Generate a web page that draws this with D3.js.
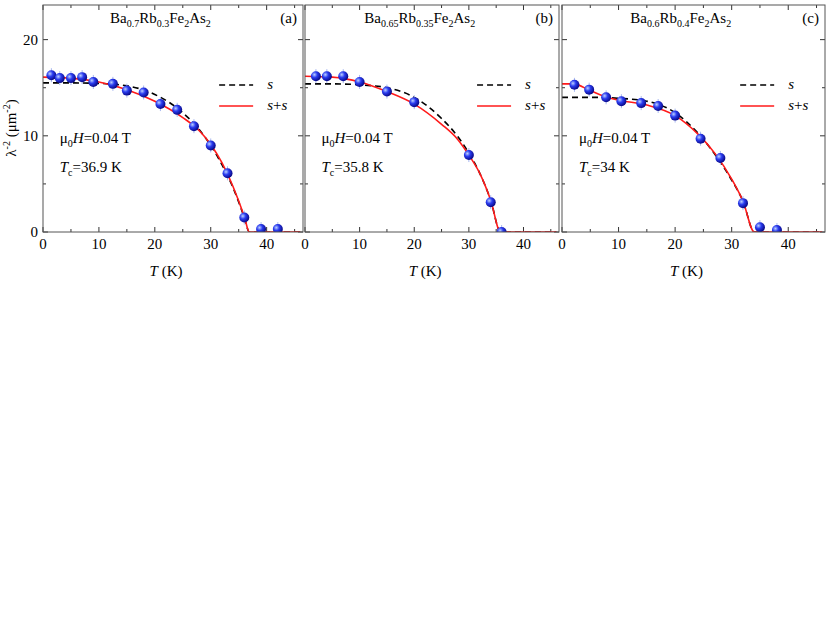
<!DOCTYPE html>
<html lang="en">
<head>
<meta charset="UTF-8">
<script src="https://d3js.org/d3.v7.min.js"></script>
<style>
  body { margin: 0; background: #fff; }
  text { font-family: "Liberation Serif", serif; }
</style>
</head>
<body>
<svg id="chart" width="830" height="637"></svg>
<script>
// Data: [T (K), lambda^-2 (um^-2)]
const pointsA = [[1.5,16.3],[3,16],[5,16],[7,16.1],[9,15.6],[12.5,15.4],[15,14.7],[18,14.5],[21,13.3],[24,12.7],[27,11.0],[30,9.0],[33,6.1],[36,1.5],[39,0.3],[42,0.3]];
const sA = [[0,15.5],[5,15.5],[10,15.45],[15,15.2],[20,14.3],[25,12.4],[28,10.6],[30,9.0],[32,7.0],[34,4.6],[36,1.5],[36.9,0],[46,0]];
const ssA = [[0,16.1],[5,16.0],[10,15.6],[15,14.8],[20,13.6],[25,11.9],[28,10.5],[30,9.1],[32,7.2],[34,4.7],[36,1.6],[36.9,0],[46,0]];

const pointsB = [[2,16.2],[4,16.2],[7,16.2],[10,15.6],[15,14.6],[20,13.5],[30,8.0],[34,3.1],[36,0]];
const sB = [[0,15.4],[5,15.4],[10,15.3],[15,15.0],[20,14.0],[25,11.8],[28,9.9],[30,8.2],[32,6.1],[34,3.3],[35.8,0],[46,0]];
const ssB = [[0,16.2],[5,16.1],[10,15.6],[15,14.6],[20,13.3],[25,11.2],[28,9.6],[30,8.0],[32,6.1],[34,3.3],[35.8,0],[46,0]];

const pointsC = [[2.2,15.3],[4.8,14.8],[7.8,14.0],[10.5,13.6],[14,13.4],[17,13.1],[20,12.1],[24.5,9.7],[28,7.7],[32,3.0],[35,0.5],[38,0.2]];
const sC = [[0,14.0],[5,14.0],[10,13.9],[15,13.6],[20,12.4],[24,10.3],[27,8.1],[30,5.4],[32,3.2],[34,0],[46,0]];
const ssC = [[0,15.4],[2,15.4],[5,14.7],[8,14.0],[10,13.7],[15,13.2],[20,12.1],[24,10.2],[27,8.2],[30,5.5],[32,3.2],[34,0],[46,0]];

const xTicks = [0, 10, 20, 30, 40];
const yTicks = [0, 10, 20];

const panels = [
  {left: 43, right: 303, pts: pointsA, s: sA, ss: ssA, label: "(a)", a: "0.7", b: "0.3", tc: "36.9", yLabels: true},
  {left: 305, right: 559, pts: pointsB, s: sB, ss: ssB, label: "(b)", a: "0.65", b: "0.35", tc: "35.8", yLabels: false},
  {left: 562, right: 825, pts: pointsC, s: sC, ss: ssC, label: "(c)", a: "0.6", b: "0.4", tc: "34", yLabels: false}
];

const plotTop = 5, plotBottom = 232;
const svg = d3.select("#chart");

const defs = svg.append("defs");
const grad = defs.append("radialGradient").attr("id", "ball").attr("cx", "35%").attr("cy", "35%").attr("r", "65%");
grad.append("stop").attr("offset", "0%").attr("stop-color", "#bcd0ff");
grad.append("stop").attr("offset", "45%").attr("stop-color", "#2a3cf0");
grad.append("stop").attr("offset", "100%").attr("stop-color", "#0a0a8a");

const y = d3.scaleLinear().domain([0, 23.6]).range([plotBottom, plotTop]);

panels.forEach(p => {
  const x = d3.scaleLinear().domain([0, 46.5]).range([p.left, p.right]);
  const g = svg.append("g");
  const clipId = "clip" + p.label[1];
  defs.append("clipPath").attr("id", clipId).append("rect")
    .attr("x", p.left).attr("y", plotTop).attr("width", p.right - p.left).attr("height", plotBottom - plotTop);

  // ticks (inward) on all four sides
  d3.range(0, 46, 5).forEach(t => {
    const len = t % 10 === 0 ? 5 : 3;
    g.append("line").attr("x1", x(t)).attr("x2", x(t)).attr("y1", plotBottom).attr("y2", plotBottom - len).attr("stroke", "#333");
    g.append("line").attr("x1", x(t)).attr("x2", x(t)).attr("y1", plotTop).attr("y2", plotTop + len).attr("stroke", "#333");
  });
  d3.range(0, 23, 5).forEach(v => {
    const len = v % 10 === 0 ? 5 : 3;
    g.append("line").attr("x1", p.left).attr("x2", p.left + len).attr("y1", y(v)).attr("y2", y(v)).attr("stroke", "#333");
    g.append("line").attr("x1", p.right).attr("x2", p.right - len).attr("y1", y(v)).attr("y2", y(v)).attr("stroke", "#333");
  });

  g.selectAll(".xl").data(xTicks).enter().append("text")
    .attr("x", d => x(d)).attr("y", plotBottom + 17).attr("text-anchor", "middle")
    .attr("font-size", 15).text(d => d);
  if (p.yLabels) {
    g.selectAll(".yl").data(yTicks).enter().append("text")
      .attr("x", p.left - 5).attr("y", d => y(d) + 5).attr("text-anchor", "end")
      .attr("font-size", 15).text(d => d);
  }

  const xt = g.append("text").attr("x", x(22)).attr("y", 276).attr("text-anchor", "middle").attr("font-size", 15);
  xt.append("tspan").attr("font-style", "italic").text("T");
  xt.append("tspan").text(" (K)");

  const line = d3.line().x(d => x(d[0])).y(d => y(d[1])).curve(d3.curveMonotoneX);
  const plot = g.append("g").attr("clip-path", `url(#${clipId})`);
  plot.append("path").datum(p.s).attr("d", line).attr("fill", "none")
    .attr("stroke", "#000").attr("stroke-width", 1.6).attr("stroke-dasharray", "6,4");
  plot.append("path").datum(p.ss).attr("d", line).attr("fill", "none")
    .attr("stroke", "#ff1a1a").attr("stroke-width", 1.6);

  // error bars
  plot.selectAll(".err").data(p.pts).enter().append("line")
    .attr("x1", d => x(d[0])).attr("x2", d => x(d[0]))
    .attr("y1", d => y(d[1]) - 7).attr("y2", d => y(d[1]) + 7)
    .attr("stroke", "#a8b8f0").attr("stroke-width", 1);
  plot.selectAll(".pt").data(p.pts).enter().append("circle")
    .attr("cx", d => x(d[0])).attr("cy", d => y(d[1])).attr("r", 5)
    .attr("fill", "url(#ball)");

  // frame
  g.append("rect").attr("x", p.left).attr("y", plotTop).attr("width", p.right - p.left).attr("height", plotBottom - plotTop)
    .attr("fill", "none").attr("stroke", "#555").attr("stroke-width", 1);

  // title
  const t = g.append("text").attr("x", x(21)).attr("y", plotTop + 18).attr("text-anchor", "middle").attr("font-size", 15);
  const sub = (s) => t.append("tspan").attr("font-size", 10).attr("dy", 4).text(s);
  const up = (s) => t.append("tspan").attr("dy", -4).text(s);
  t.append("tspan").text("Ba");
  sub(p.a); up("Rb"); sub(p.b); up("Fe"); sub("2"); up("As"); sub("2");

  g.append("text").attr("x", p.right - 6).attr("y", plotTop + 18).attr("text-anchor", "end").attr("font-size", 15).text(p.label);

  // legend
  const lx = x(31.5);
  g.append("line").attr("x1", lx).attr("x2", lx + 34).attr("y1", 85).attr("y2", 85)
    .attr("stroke", "#000").attr("stroke-width", 1.6).attr("stroke-dasharray", "6,4");
  g.append("text").attr("x", lx + 48).attr("y", 89).attr("font-size", 15).attr("font-style", "italic").text("s");
  g.append("line").attr("x1", lx).attr("x2", lx + 34).attr("y1", 106).attr("y2", 106)
    .attr("stroke", "#ff1a1a").attr("stroke-width", 1.6);
  const ll = g.append("text").attr("x", lx + 48).attr("y", 110).attr("font-size", 15);
  ll.append("tspan").attr("font-style", "italic").text("s");
  ll.append("tspan").text("+");
  ll.append("tspan").attr("font-style", "italic").text("s");

  // field and Tc annotation
  const h = g.append("text").attr("x", x(3)).attr("y", 143).attr("font-size", 15);
  h.append("tspan").text("μ");
  h.append("tspan").attr("font-size", 10).attr("dy", 4).text("0");
  h.append("tspan").attr("dy", -4).attr("font-style", "italic").text("H");
  h.append("tspan").text("=0.04 T");
  const tc = g.append("text").attr("x", x(3)).attr("y", 172).attr("font-size", 15);
  tc.append("tspan").attr("font-style", "italic").text("T");
  tc.append("tspan").attr("font-size", 10).attr("dy", 4).text("c");
  tc.append("tspan").attr("dy", -4).text("=" + p.tc + " K");
});

// y axis label
const yl = svg.append("text").attr("transform", "translate(16,128) rotate(-90)")
  .attr("text-anchor", "middle").attr("font-size", 15);
yl.append("tspan").text("λ");
yl.append("tspan").attr("font-size", 10).attr("dy", -6).text("-2");
yl.append("tspan").attr("dy", 6).text(" (μm");
yl.append("tspan").attr("font-size", 10).attr("dy", -6).text("-2");
yl.append("tspan").attr("dy", 6).text(")");
</script>
</body>
</html>
